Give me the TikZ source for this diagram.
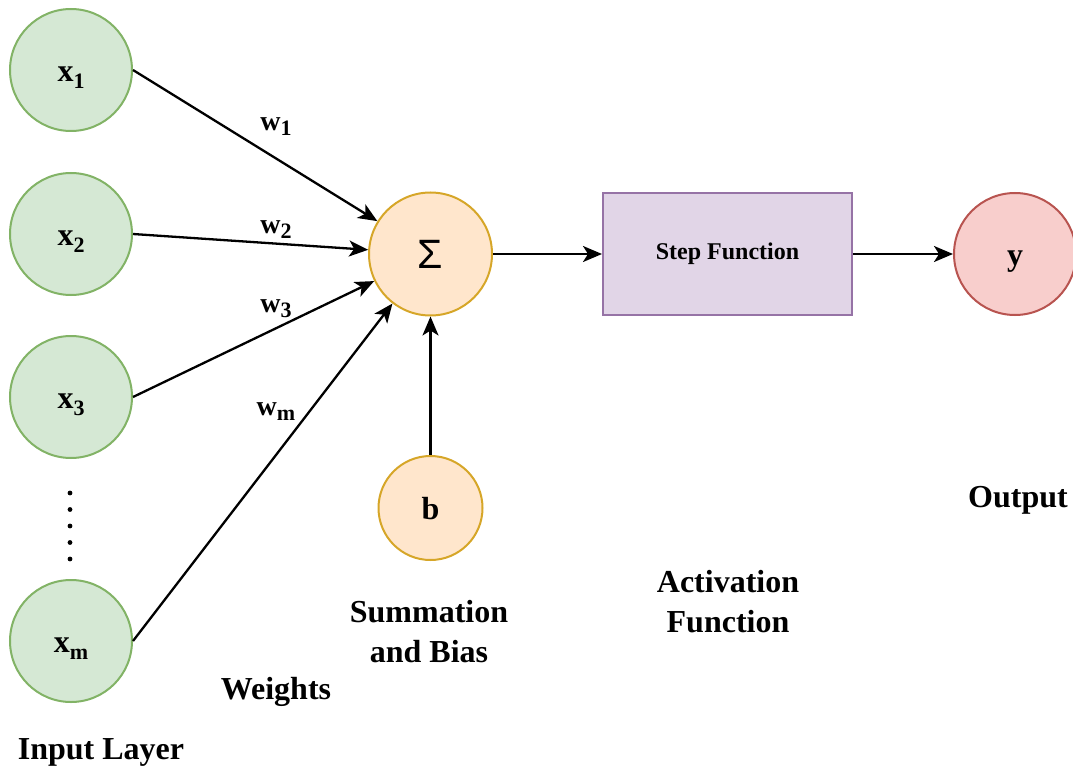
\documentclass[tikz,border=0pt]{standalone}
\usepackage{fontspec}
\setmainfont{Liberation Serif}
\newfontfamily\sigmafont{Liberation Sans}
\usetikzlibrary{arrows.meta}

\definecolor{inline}{HTML}{82B366}
\definecolor{infill}{HTML}{D5E8D4}
\definecolor{sumline}{HTML}{D6A628}
\definecolor{sumfill}{HTML}{FFE6CC}
\definecolor{actline}{HTML}{9673A6}
\definecolor{actfill}{HTML}{E1D5E7}
\definecolor{outline}{HTML}{B85450}
\definecolor{outfill}{HTML}{F8CECC}

% lowered index for node labels
\newcommand{\lowidx}[2]{\raisebox{#1}{\fontsize{22}{22}\selectfont #2}}

\tikzset{
  bigtext/.style={font=\bfseries\fontsize{32}{40}\selectfont},
  letter/.style={bigtext, text height=23pt, text depth=0pt},
  innode/.style={circle, draw=inline, fill=infill, line width=2pt,
    minimum size=122pt, inner sep=0pt, letter},
  sumnode/.style={circle, draw=sumline, fill=sumfill, line width=2pt,
    minimum size=123pt, inner sep=0pt},
  biasnode/.style={circle, draw=sumline, fill=sumfill, line width=2pt,
    minimum size=104pt, inner sep=0pt, letter},
  outnode/.style={circle, draw=outline, fill=outfill, line width=2pt,
    minimum size=122pt, inner sep=0pt, letter},
  stepbox/.style={rectangle, draw=actline, fill=actfill, line width=2pt,
    minimum width=249pt, minimum height=122pt, inner sep=0pt,
    font=\bfseries\fontsize{24}{28}\selectfont},
  conn/.style={line width=2.3pt, -{Stealth[length=19pt,width=16pt,inset=5pt]}},
  wlabel/.style={font=\bfseries\fontsize{28}{30}\selectfont, inner sep=0pt},
  caption/.style={bigtext, align=center, inner sep=0pt},
}

\begin{document}
\begin{tikzpicture}[x=1pt, y=-1pt]
  \useasboundingbox (0,0) rectangle (1073,770);

  % input layer
  \node[innode] (x1) at (71,70)  {x\lowidx{-7pt}{1}};
  \node[innode] (x2) at (71,234) {x\lowidx{-7pt}{2}};
  \node[innode] (x3) at (71,397) {x\lowidx{-7pt}{3}};
  \node[innode] (xm) at (71,641) {x\lowidx{-7pt}{m}};
  \foreach \k in {493,509.5,526,542.5,559}
    \fill (70,\k) circle[radius=2.4pt];

  % summation, bias, activation, output
  \node[sumnode] (sum) at (430.5,254) {\sigmafont\fontsize{41}{41}\selectfont Σ};
  \node[biasnode] (b) at (430.5,508) {b};
  \node[stepbox] (act) at (727.5,254) {Step Function};
  \node[outnode] (y) at (1015,254) {y};

  % weighted inputs and signal flow
  \draw[conn] (x1.east) -- (sum);
  \draw[conn] (x2.east) -- (sum);
  \draw[conn] (x3.east) -- (sum);
  \draw[conn] (xm.east) -- (sum);
  \draw[conn] (b) -- (sum);
  \draw[conn] (sum) -- (act);
  \draw[conn] (act) -- (y);

  % weight labels
  \node[wlabel] (w1) at (276,127) {w\lowidx{-5pt}{1}};
  \node[wlabel] (w2) at (276,230) {w\lowidx{-5pt}{2}};
  \node[wlabel] (w3) at (276,309) {w\lowidx{-5pt}{3}};
  \node[wlabel] (wm) at (276,412) {w\lowidx{-5pt}{m}};

  % captions
  \node[caption] (capin)  at (101,752) {Input Layer};
  \node[caption] (capw)   at (276,692) {Weights};
  \node[caption] (capsum) at (429,632) {Summation\\and Bias};
  \node[caption] (capact) at (728,602) {Activation\\Function};
  \node[caption] (capout) at (1018,500) {Output};
\end{tikzpicture}
\end{document}
